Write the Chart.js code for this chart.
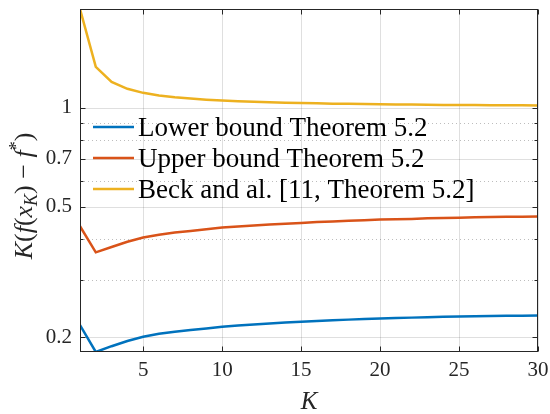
<!DOCTYPE html>
<html>
<head>
<meta charset="utf-8">
<script src="https://cdn.jsdelivr.net/npm/chart.js@4.4.1/dist/chart.umd.min.js"></script>
<style>
  html, body { margin: 0; padding: 0; background: #fff; }
  #wrap { width: 550px; height: 414px; }
</style>
</head>
<body>
<div id="wrap"><canvas id="myChart" width="550" height="414"></canvas></div>
<script>
// valeurs (K = 1..30)
const iterations = [1, 2, 3, 4, 5, 6, 7, 8, 9, 10, 11, 12, 13, 14, 15,
  16, 17, 18, 19, 20, 21, 22, 23, 24, 25, 26, 27, 28, 29, 30];
const lowerBound = [0.218, 0.1805, 0.188, 0.195, 0.2009, 0.205, 0.208, 0.2105, 0.213, 0.2156,
  0.2175, 0.219, 0.2205, 0.222, 0.2233, 0.2245, 0.2255, 0.2265, 0.2275, 0.2284,
  0.229, 0.2297, 0.2304, 0.231, 0.2316, 0.232, 0.2323, 0.2326, 0.2329, 0.2332];
const upperBound = [0.436, 0.363, 0.377, 0.391, 0.403, 0.411, 0.417, 0.422, 0.427, 0.432,
  0.435, 0.438, 0.441, 0.444, 0.446, 0.449, 0.451, 0.453, 0.455, 0.457,
  0.458, 0.459, 0.461, 0.462, 0.463, 0.464, 0.465, 0.466, 0.466, 0.467];
const beckBound = [2.0, 1.333, 1.2, 1.143, 1.111, 1.091, 1.077, 1.067, 1.059, 1.053,
  1.048, 1.043, 1.04, 1.037, 1.034, 1.032, 1.03, 1.029, 1.027, 1.026,
  1.024, 1.023, 1.022, 1.021, 1.02, 1.02, 1.019, 1.018, 1.018, 1.017];
const seriesLabels = ["Lower bound Theorem 5.2", "Upper bound Theorem 5.2", "Beck and al. [11, Theorem 5.2]"];
const xTicks = [5, 10, 15, 20, 25, 30];
const yMajorTicks = [0.2, 0.5, 0.7, 1];
const yMinorTicks = [0.3, 0.4, 0.6, 0.8, 0.9];

const serif = "'Liberation Serif', 'DejaVu Serif', serif";
const axisColor = "#262626";

const toPoints = (vals) => vals.map((v, i) => ({ x: iterations[i], y: v }));

const data = {
  datasets: [
    { label: seriesLabels[0], data: toPoints(lowerBound), borderColor: "#0072BD" },
    { label: seriesLabels[1], data: toPoints(upperBound), borderColor: "#D95319" },
    { label: seriesLabels[2], data: toPoints(beckBound), borderColor: "#EDB120" },
  ],
};

function seg(ctx, x1, y1, x2, y2) {
  ctx.beginPath();
  ctx.moveTo(x1, y1);
  ctx.lineTo(x2, y2);
  ctx.stroke();
}

// pas de marge auto autour des étiquettes, on fixe la zone du graphe
function noPad(s) {
  s.paddingTop = 0;
  s.paddingBottom = 0;
  s.paddingLeft = 0;
  s.paddingRight = 0;
}

// grille, cadre, graduations, légende et titres façon MATLAB
const matlabLook = {
  id: "matlabLook",
  beforeDatasetsDraw(chart) {
    const { ctx, chartArea: a, scales: { x, y } } = chart;
    ctx.save();
    ctx.lineWidth = 1;
    ctx.strokeStyle = "rgba(38,38,38,0.15)";
    xTicks.forEach((v) => {
      const px = Math.round(x.getPixelForValue(v)) + 0.5;
      seg(ctx, px, a.top, px, a.bottom);
    });
    yMajorTicks.forEach((v) => {
      const py = Math.round(y.getPixelForValue(v)) + 0.5;
      seg(ctx, a.left, py, a.right, py);
    });
    ctx.setLineDash([1, 3]);
    ctx.strokeStyle = "rgba(38,38,38,0.3)";
    yMinorTicks.forEach((v) => {
      const py = Math.round(y.getPixelForValue(v)) + 0.5;
      seg(ctx, a.left, py, a.right, py);
    });
    ctx.restore();
  },
  afterDatasetsDraw(chart) {
    const { ctx, chartArea: a, scales: { x, y } } = chart;
    ctx.save();
    ctx.strokeStyle = axisColor;
    ctx.lineWidth = 1;
    const L = Math.round(a.left) + 0.5, R = Math.round(a.right) - 0.5;
    const T = Math.round(a.top) + 0.5, B = Math.round(a.bottom) - 0.5;
    ctx.strokeRect(L, T, R - L, B - T);
    // graduations vers l'intérieur
    xTicks.forEach((v) => {
      const px = Math.round(x.getPixelForValue(v)) + 0.5;
      seg(ctx, px, B, px, B - 5);
      seg(ctx, px, T, px, T + 5);
    });
    yMajorTicks.forEach((v) => {
      const py = Math.round(y.getPixelForValue(v)) + 0.5;
      seg(ctx, L, py, L + 5, py);
      seg(ctx, R, py, R - 5, py);
    });
    yMinorTicks.forEach((v) => {
      const py = Math.round(y.getPixelForValue(v)) + 0.5;
      seg(ctx, L, py, L + 3, py);
      seg(ctx, R, py, R - 3, py);
    });

    // légende
    ctx.font = "27px " + serif;
    ctx.textBaseline = "alphabetic";
    ctx.textAlign = "left";
    chart.data.datasets.forEach((ds, i) => {
      const cy = 127 + i * 31;
      ctx.strokeStyle = ds.borderColor;
      ctx.lineWidth = 2.5;
      seg(ctx, 93, cy, 134, cy);
      ctx.fillStyle = "#000";
      ctx.fillText(ds.label, 138, cy + 9);
    });

    // titre axe x
    ctx.fillStyle = axisColor;
    ctx.font = "italic 25px " + serif;
    ctx.textAlign = "center";
    ctx.fillText("K", (a.left + a.right) / 2, 409);

    // titre axe y : K(f(x_K) − f*)
    const big = "26px " + serif, bigI = "italic 26px " + serif, small = "18px " + serif, smallI = "italic 18px " + serif;
    const parts = [
      { t: "K", f: bigI, dy: 0 }, { t: "(", f: big, dy: 0 }, { t: "f", f: bigI, dy: 0 },
      { t: "(", f: big, dy: 0 }, { t: "x", f: bigI, dy: 0 }, { t: "K", f: smallI, dy: 5 },
      { t: ")", f: big, dy: 0 }, { t: " \u2212 ", f: big, dy: 0 }, { t: "f", f: bigI, dy: 0 },
      { t: "*", f: small, dy: -10 }, { t: ")", f: big, dy: 0 },
    ];
    let total = 0;
    parts.forEach((p) => { ctx.font = p.f; p.w = ctx.measureText(p.t).width; total += p.w; });
    ctx.translate(32, 196);
    ctx.rotate(-Math.PI / 2);
    ctx.textAlign = "left";
    let cx = -total / 2;
    parts.forEach((p) => {
      ctx.font = p.f;
      ctx.fillText(p.t, cx, p.dy);
      cx += p.w;
    });
    ctx.restore();
  },
};

const config = {
  type: "line",
  data: data,
  options: {
    responsive: false,
    animation: false,
    layout: { padding: { top: 9, right: 12, left: 0, bottom: 0 } },
    elements: {
      point: { radius: 0 },
      line: { borderWidth: 2.5, tension: 0, fill: false },
    },
    plugins: {
      legend: { display: false },
      title: { display: false },
      tooltip: { enabled: false },
    },
    scales: {
      x: {
        type: "linear",
        min: 1,
        max: 30,
        afterBuildTicks: (s) => { s.ticks = xTicks.map((v) => ({ value: v })); },
        afterFit: (s) => { s.height = 62; noPad(s); },
        grid: { display: false, drawTicks: false },
        border: { display: false },
        ticks: { font: { family: serif, size: 21 }, color: axisColor, padding: 6, maxRotation: 0, autoSkip: false },
      },
      y: {
        type: "logarithmic",
        min: Math.min(...lowerBound),
        max: Math.max(...beckBound),
        afterBuildTicks: (s) => { s.ticks = yMajorTicks.map((v) => ({ value: v })); },
        afterFit: (s) => { s.width = 80; noPad(s); },
        grid: { display: false, drawTicks: false },
        border: { display: false },
        ticks: {
          font: { family: serif, size: 21 },
          color: axisColor,
          padding: 8,
          autoSkip: false,
          callback: (v) => String(v),
        },
      },
    },
  },
  plugins: [matlabLook],
};

let context = document.getElementById("myChart").getContext("2d");
let chart = new Chart(context, config);
</script>
</body>
</html>
